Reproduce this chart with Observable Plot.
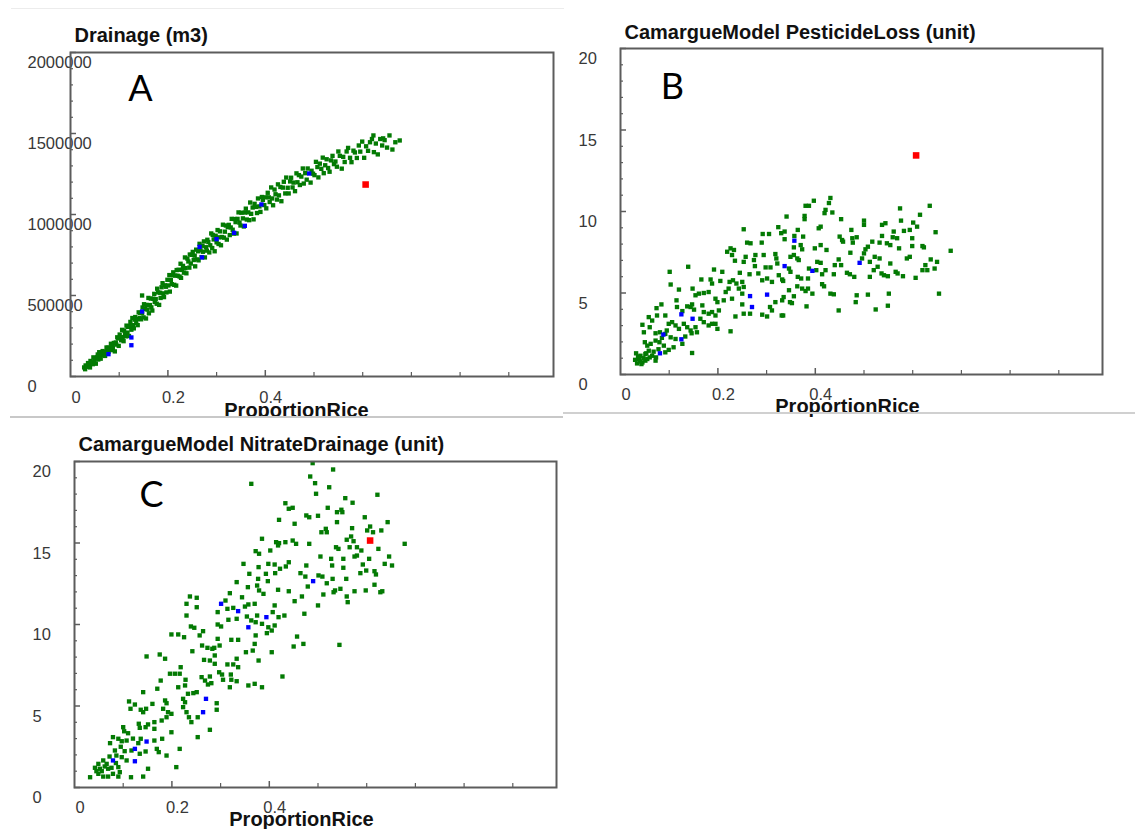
<!DOCTYPE html>
<html><head><meta charset="utf-8">
<script src="https://cdn.jsdelivr.net/npm/d3@7"></script>
<script src="https://cdn.jsdelivr.net/npm/@observablehq/plot@0.6"></script>
<style>
html,body{margin:0;padding:0;background:#fff;}
#wrap{position:relative;width:1135px;height:829px;overflow:hidden;background:#fff;}
.panel{position:absolute;background:#fff;}
.panel svg{max-width:none;display:block;}
.sep{position:absolute;}
</style></head><body><div id="wrap"></div>
<script>
// ---------- data ----------
const xLabelTicks = [0, 0.2, 0.4];
const xMajorTicks = [0.2, 0.4];
const xMinorTicks = [0.1, 0.3, 0.5, 0.6, 0.7, 0.8, 0.9];
const yTicksDrainage = [0, 500000, 1000000, 1500000, 2000000];
const yMinorDrainage = [100000,200000,300000,400000,600000,700000,800000,900000,1100000,1200000,1300000,1400000,1600000,1700000,1800000,1900000];
const yTicksUnit = [0, 5, 10, 15, 20];
const yMinorUnit = [1,2,3,4,6,7,8,9,11,12,13,14,16,17,18,19];

// Drainage (m3), values in thousands of m3
const drainageGreenK = [[0.028,56],[0.030,45],[0.031,68],[0.033,65],[0.034,60],[0.036,83],[0.039,74],[0.040,56],[0.041,96],[0.043,87],[0.046,76],[0.047,118],[0.049,92],[0.050,114],[0.052,79],[0.055,120],[0.056,136],[0.057,105],[0.059,150],[0.061,125],[0.062,110],[0.065,147],[0.066,157],[0.068,134],[0.070,150],[0.071,127],[0.074,179],[0.075,156],[0.077,178],[0.078,152],[0.080,176],[0.083,202],[0.084,163],[0.086,192],[0.087,175],[0.089,207],
[0.091,155],[0.093,210],[0.094,197],[0.096,242],[0.098,235],[0.099,189],[0.101,259],[0.102,240],[0.104,224],[0.106,288],[0.107,243],[0.109,218],[0.110,284],[0.112,268],[0.114,248],[0.115,314],[0.117,271],[0.118,306],[0.120,250],[0.122,311],[0.123,337],[0.125,289],[0.127,361],[0.128,317],[0.130,297],[0.132,351],[0.133,367],[0.135,329],[0.137,354],[0.138,317],[0.140,396],[0.142,361],[0.143,392],[0.145,353],[0.147,392],[0.147,500],[0.148,426],
[0.150,365],[0.151,446],[0.153,417],[0.155,358],[0.156,442],[0.158,413],[0.160,485],[0.161,390],[0.163,441],[0.165,481],[0.166,427],[0.168,407],[0.170,480],[0.172,510],[0.173,460],[0.175,478],[0.177,449],[0.178,542],[0.180,519],[0.182,442],[0.184,517],[0.185,485],[0.187,551],[0.189,576],[0.190,513],[0.192,490],[0.194,563],[0.196,554],[0.197,519],[0.199,597],[0.201,562],[0.203,626],[0.204,524],[0.206,596],[0.208,570],[0.210,625],[0.211,643],[0.213,566],[0.215,623],[0.217,561],[0.218,657],[0.220,622],[0.222,659],[0.224,617],[0.226,696],[0.227,609],[0.229,658],[0.231,683],[0.233,641],[0.235,735],[0.236,669],[0.238,637],[0.240,728],[0.242,710],[0.244,672],[0.245,753],[0.247,697],[0.249,751],
[0.251,769],[0.253,719],[0.255,746],[0.256,680],[0.258,783],[0.260,723],[0.262,773],[0.263,717],[0.265,819],[0.267,779],[0.269,737],[0.271,807],[0.272,770],[0.274,834],[0.276,735],[0.278,798],[0.280,777],[0.281,844],[0.283,830],[0.285,766],[0.287,810],[0.289,883],[0.291,793],[0.292,874],[0.294,846],[0.296,773],[0.298,869],[0.300,828],[0.302,904],[0.304,818],[0.305,859],[0.307,896],[0.309,810],[0.311,861],[0.313,937],[0.315,857],[0.317,894],[0.319,932],[0.321,845],[0.323,922],[0.325,936],[0.327,873],[0.329,920],[0.331,973],[0.333,906],[0.335,882],[0.337,972],[0.339,953],[0.341,883],[0.343,973],[0.345,1013],[0.347,950],[0.349,932],[0.351,1011],[0.354,976],[0.356,926],[0.358,1012],[0.360,1036],[0.362,969],[0.365,1013],[0.367,965],[0.369,1074],[0.371,1004],[0.374,1043],[0.376,970],[0.378,1066],[0.381,1047],[0.383,1009],[0.385,1099],[0.388,1050],[0.390,1016],[0.393,1108],[0.395,1090],[0.398,1058],
[0.400,1106],[0.402,1038],[0.405,1134],[0.407,1106],[0.409,1077],[0.412,1167],[0.414,1099],[0.416,1057],[0.419,1154],[0.421,1125],[0.424,1092],[0.426,1186],[0.428,1118],[0.431,1170],[0.433,1082],[0.436,1166],[0.438,1202],[0.441,1130],[0.443,1228],[0.446,1165],[0.448,1130],[0.451,1204],[0.453,1227],[0.456,1167],[0.458,1197],[0.461,1144],[0.464,1254],[0.466,1199],[0.469,1243],[0.471,1182],[0.474,1234],[0.477,1284],[0.479,1191],[0.482,1255],[0.485,1215],[0.487,1284],[0.493,1197],[0.495,1270],[0.498,1252],
[0.501,1243],[0.504,1325],[0.507,1293],[0.509,1229],[0.512,1314],[0.515,1282],[0.518,1351],[0.520,1255],[0.523,1304],[0.526,1341],[0.529,1287],[0.532,1264],[0.535,1334],[0.538,1362],[0.541,1311],[0.544,1327],[0.547,1295],[0.550,1389],[0.553,1362],[0.557,1283],[0.560,1356],[0.563,1324],[0.567,1389],[0.570,1411],[0.574,1350],[0.577,1323],[0.581,1394],[0.584,1383],[0.588,1349],[0.592,1426],[0.595,1388],[0.599,1450],[0.603,1350],[0.607,1421],[0.611,1393],[0.615,1446],[0.619,1466],[0.622,1488],[0.623,1385],[0.627,1438],[0.631,1371],[0.636,1466],[0.640,1426],[0.642,1470],[0.645,1459],[0.650,1413],[0.655,1488],[0.661,1401],[0.667,1446],[0.676,1457]];
const drainageBlueK = [[0.078,138],[0.125,241],[0.125,193],[0.147,401],[0.265,800],[0.270,735],[0.300,848],[0.336,887],[0.358,930],[0.392,1062],[0.490,1253]];
const drainageRedK = [[0.606,1185]];

const pesticideGreen = [[0.341,9.69],[0.253,8.91],[0.324,9.04],[0.292,8.62],[0.305,8.62],[0.330,8.67],[0.260,8.09],[0.267,8.05],[0.290,8.09],[0.226,7.74],[0.233,7.64],[0.219,7.53],[0.229,7.33],[0.235,6.98],[0.257,7.22],[0.277,7.33],[0.294,7.33],[0.318,7.39],[0.320,7.12],[0.253,6.91],[0.274,7.02],[0.276,6.65],[0.298,6.57],[0.308,6.57],[0.322,6.81],[0.346,6.50],[0.101,6.30],[0.139,6.61],[0.192,6.44],[0.209,6.30],[0.245,6.24],[0.265,6.15],[0.283,6.20],[0.291,5.78],[0.301,5.89],[0.311,5.68],[0.325,6.09],[0.332,5.83],[0.103,5.52],[0.120,5.21],[0.148,5.27],[0.166,5.83],[0.185,5.83],[0.188,5.58],[0.205,5.74],[0.224,5.68],[0.231,5.78],[0.238,5.58],[0.250,5.68],[0.253,5.37],[0.243,5.27],[0.216,5.06],[0.222,5.27],[0.154,4.86],[0.161,4.96],[0.171,5.00],[0.181,5.06],[0.195,4.65],[0.199,4.44],[0.212,4.55],[0.229,4.65],[0.250,4.96],[0.307,4.14],[0.311,3.93],[0.318,4.44],[0.332,4.55],[0.346,5.17],[0.250,4.30],[0.253,3.73],[0.291,3.67],[0.301,3.56],[0.331,3.62],[0.266,3.73],[0.236,3.56],[0.226,2.65],[0.074,4.07],[0.084,4.30],[0.092,3.62],[0.115,4.55],[0.116,4.14],[0.127,3.89],[0.137,4.18],[0.144,4.14],[0.147,4.30],[0.151,3.98],[0.168,4.24],[0.171,3.83],[0.181,3.73],[0.188,3.83],[0.195,3.62],[0.202,3.93],[0.099,3.11],[0.106,3.21],[0.113,3.01],[0.120,2.80],[0.130,3.11],[0.137,2.90],[0.144,2.70],[0.154,2.90],[0.164,3.42],[0.171,3.21],[0.181,3.01],[0.188,3.11],[0.195,3.11],[0.199,2.80],[0.058,3.52],[0.065,3.31],[0.075,3.62],[0.045,3.05],[0.048,2.59],[0.060,2.90],[0.072,2.53],[0.081,2.59],[0.092,2.49],[0.103,2.28],[0.113,2.18],[0.133,2.33],[0.146,2.53],[0.157,2.59],[0.050,1.98],[0.055,1.77],[0.062,1.88],[0.072,2.08],[0.080,1.98],[0.089,1.77],[0.099,1.51],[0.109,1.67],[0.127,1.88],[0.032,1.30],[0.041,1.15],[0.051,1.26],[0.058,1.46],[0.065,1.15],[0.038,0.95],[0.045,0.74],[0.051,0.85],[0.034,0.68],[0.043,0.64],[0.055,0.95],[0.072,0.85],[0.147,1.32],[0.092,1.36],[0.073,1.05],[0.036,1.10],[0.040,0.80],[0.047,1.00],[0.030,0.90],[0.053,1.30],[0.060,1.05],[0.068,1.40],[0.078,1.55],[0.085,2.25],[0.095,2.70],
[0.431,10.83],[0.428,10.52],[0.397,10.66],[0.380,10.35],[0.387,10.35],[0.421,10.10],[0.419,9.90],[0.435,9.94],[0.378,9.73],[0.378,9.53],[0.453,9.53],[0.574,10.19],[0.635,10.35],[0.615,9.80],[0.500,9.44],[0.500,9.18],[0.411,9.07],[0.407,8.97],[0.364,8.87],[0.474,8.87],[0.537,9.18],[0.544,9.28],[0.576,9.44],[0.601,9.32],[0.609,9.07],[0.647,8.73],[0.582,8.81],[0.594,8.87],[0.561,8.77],[0.337,8.77],[0.357,8.50],[0.375,8.46],[0.337,8.30],[0.450,8.46],[0.455,8.25],[0.476,8.36],[0.485,8.42],[0.477,8.09],[0.517,8.15],[0.537,8.50],[0.547,8.05],[0.559,8.42],[0.568,8.36],[0.599,8.36],[0.620,7.88],[0.623,7.80],[0.599,7.88],[0.572,7.74],[0.554,7.94],[0.532,8.09],[0.508,7.84],[0.503,7.68],[0.500,7.43],[0.496,7.12],[0.472,7.47],[0.457,8.15],[0.423,7.64],[0.411,7.94],[0.399,7.74],[0.370,7.94],[0.373,7.68],[0.356,7.80],[0.356,7.33],[0.349,7.22],[0.363,7.12],[0.366,7.02],[0.387,6.50],[0.404,6.91],[0.411,6.85],[0.402,6.40],[0.414,6.15],[0.421,6.40],[0.440,6.71],[0.448,7.06],[0.453,6.71],[0.438,6.15],[0.465,6.24],[0.471,6.15],[0.480,5.99],[0.512,5.99],[0.522,7.22],[0.532,7.12],[0.512,6.91],[0.528,6.61],[0.520,6.40],[0.536,6.20],[0.541,6.09],[0.549,6.03],[0.554,6.81],[0.565,6.30],[0.569,6.20],[0.580,6.03],[0.588,7.12],[0.594,7.22],[0.606,5.93],[0.620,6.40],[0.626,6.71],[0.630,6.40],[0.637,7.06],[0.650,6.91],[0.645,6.50],[0.678,7.59],[0.654,4.96],[0.334,5.74],[0.349,6.30],[0.364,5.99],[0.371,5.89],[0.385,5.89],[0.363,5.41],[0.373,5.27],[0.380,5.12],[0.385,5.27],[0.394,4.96],[0.335,4.75],[0.348,4.44],[0.356,4.80],[0.352,4.38],[0.382,4.18],[0.414,5.54],[0.418,5.41],[0.431,4.96],[0.438,4.92],[0.448,3.93],[0.485,4.86],[0.483,4.44],[0.508,4.90],[0.551,4.96],[0.549,4.22],[0.524,3.99],[0.334,3.62]];
const pesticideBlue = [[0.337,6.65],[0.266,4.81],[0.301,4.90],[0.270,4.14],[0.125,3.69],[0.148,3.42],[0.088,2.45],[0.125,2.16],[0.081,1.30],[0.357,8.21],[0.394,6.36],[0.491,6.85]];
const pesticideRed = [[0.607,13.44]];

const nitrateGreen = [[0.333,12.60],[0.319,11.92],[0.310,11.47],[0.314,10.96],[0.326,11.02],[0.294,10.76],[0.237,11.72],[0.251,11.64],[0.230,11.27],[0.251,11.06],[0.230,10.55],[0.316,10.29],[0.333,10.35],[0.294,10.00],[0.301,9.88],[0.239,9.88],[0.246,9.80],[0.264,9.59],[0.257,9.33],[0.199,9.39],[0.213,9.39],[0.225,9.22],[0.294,9.12],[0.322,9.06],[0.336,9.06],[0.262,8.71],[0.273,8.57],[0.283,8.51],[0.287,8.57],[0.298,8.71],[0.242,8.36],[0.266,7.83],[0.278,7.79],[0.288,8.10],[0.288,7.59],[0.314,7.55],[0.326,7.55],[0.333,7.90],[0.148,8.04],[0.175,8.16],[0.186,7.90],[0.218,7.38],[0.196,6.98],[0.206,6.98],[0.216,6.98],[0.297,7.07],[0.303,6.93],[0.321,6.93],[0.305,6.61],[0.322,6.61],[0.319,6.15],[0.336,7.38],[0.261,6.77],[0.268,6.56],[0.278,6.81],[0.274,6.32],[0.281,6.40],[0.177,6.56],[0.213,6.15],[0.227,6.26],[0.228,6.61],[0.170,6.06],[0.141,5.85],[0.251,5.85],[0.244,5.79],[0.233,5.75],[0.223,5.44],[0.227,5.23],[0.292,4.77],[0.292,5.17],[0.112,5.28],[0.115,4.83],[0.124,5.09],[0.136,4.77],[0.141,4.62],[0.147,4.83],[0.160,5.13],[0.186,5.34],[0.189,5.17],[0.182,4.83],[0.192,4.62],[0.199,4.52],[0.189,4.31],[0.179,4.11],[0.199,3.39],[0.223,4.93],[0.230,4.62],[0.235,4.31],[0.240,4.01],[0.253,4.31],[0.253,3.09],[0.278,3.54],[0.132,3.91],[0.134,3.66],[0.146,3.70],[0.151,3.87],[0.164,4.01],[0.164,3.60],[0.100,3.70],[0.102,3.45],[0.110,3.33],[0.079,3.09],[0.073,2.72],[0.090,2.99],[0.097,2.84],[0.107,2.88],[0.136,2.99],[0.131,2.72],[0.164,2.88],[0.180,2.99],[0.169,2.37],[0.173,2.17],[0.146,2.21],[0.134,2.07],[0.117,2.27],[0.103,2.23],[0.083,2.27],[0.086,1.96],[0.097,1.86],[0.107,1.66],[0.151,1.15],[0.216,2.37],[0.209,1.25],[0.189,1.96],[0.059,1.66],[0.049,1.45],[0.042,1.21],[0.052,1.15],[0.062,1.29],[0.069,1.15],[0.076,1.21],[0.090,1.25],[0.093,0.94],[0.079,0.84],[0.069,0.67],[0.059,0.67],[0.049,0.84],[0.032,0.63],[0.090,0.67],[0.116,0.63],[0.141,0.67],[0.056,1.00],[0.045,1.00],[0.066,1.45],[0.072,1.90],[0.085,1.50],[0.095,2.50],[0.120,3.00],
[0.489,19.90],[0.531,19.51],[0.363,18.63],[0.484,19.08],[0.494,18.67],[0.523,18.42],[0.496,18.02],[0.556,17.75],[0.571,17.47],[0.622,17.96],[0.433,17.44],[0.440,17.10],[0.448,17.16],[0.520,17.16],[0.539,16.89],[0.548,17.04],[0.550,16.89],[0.420,16.42],[0.452,16.18],[0.476,16.69],[0.482,16.58],[0.500,16.67],[0.539,16.28],[0.596,16.58],[0.643,16.28],[0.607,16.01],[0.601,15.77],[0.613,15.66],[0.630,15.77],[0.570,15.91],[0.516,15.87],[0.518,15.66],[0.507,15.66],[0.385,15.26],[0.414,15.05],[0.420,14.99],[0.433,15.05],[0.448,15.15],[0.455,14.95],[0.482,14.95],[0.418,14.85],[0.537,14.74],[0.542,14.64],[0.559,15.20],[0.565,14.74],[0.573,15.11],[0.568,15.40],[0.580,14.74],[0.589,14.54],[0.580,14.23],[0.575,14.17],[0.624,14.64],[0.678,14.95],[0.372,14.50],[0.379,14.34],[0.402,14.54],[0.347,13.72],[0.378,13.52],[0.398,13.72],[0.411,13.68],[0.422,13.42],[0.434,13.56],[0.440,13.82],[0.505,14.17],[0.527,14.03],[0.552,14.03],[0.529,13.62],[0.476,13.62],[0.552,13.48],[0.592,13.68],[0.605,14.03],[0.637,13.72],[0.646,14.17],[0.652,13.62],[0.599,13.31],[0.616,13.27],[0.619,13.07],[0.587,13.15],[0.558,12.80],[0.530,12.80],[0.509,12.94],[0.501,13.01],[0.464,13.15],[0.474,12.94],[0.359,13.11],[0.393,13.11],[0.412,13.15],[0.377,12.80],[0.397,12.66],[0.375,12.39],[0.344,11.67],[0.356,12.29],[0.379,12.09],[0.388,11.88],[0.418,12.13],[0.440,12.04],[0.467,11.72],[0.452,11.43],[0.479,12.33],[0.511,11.84],[0.518,12.53],[0.532,11.98],[0.535,12.09],[0.546,12.19],[0.559,11.72],[0.561,11.37],[0.575,12.04],[0.598,12.09],[0.616,12.44],[0.628,11.98],[0.632,12.04],[0.500,11.17],[0.472,10.66],[0.411,11.17],[0.407,10.76],[0.431,10.55],[0.419,10.45],[0.411,9.94],[0.398,9.83],[0.405,9.63],[0.395,9.47],[0.385,10.04],[0.375,10.55],[0.370,11.27],[0.357,11.23],[0.350,11.10],[0.354,10.49],[0.363,10.25],[0.372,10.14],[0.457,9.26],[0.450,8.65],[0.470,8.81],[0.544,8.75],[0.427,6.81],[0.357,6.26],[0.370,6.36],[0.385,6.15],[0.405,8.30],[0.378,7.79],[0.366,8.40],[0.352,8.30],[0.370,8.81],[0.333,6.52],[0.372,9.33]];
const nitrateBlue = [[0.301,11.27],[0.336,10.82],[0.357,9.83],[0.394,10.45],[0.490,12.66],[0.270,5.44],[0.264,4.62],[0.124,2.37],[0.148,2.82],[0.079,1.66],[0.124,1.61]];
const nitrateRed = [[0.607,15.15]];

const toM3 = arr => arr.map(([x, y]) => [x, y * 1000]);

const panels = [
  {title:"Drainage (m3)", letter:"A", left:0, top:0, width:565, height:418, ml:70, mr:12, mt:52, mb:42,
   yDomain:[0,2000000], yMajor:yTicksDrainage, yMinor:yMinorDrainage,
   green:toM3(drainageGreenK), blue:toM3(drainageBlueK), red:toM3(drainageRedK),
   titleDy:-17, letterDx:70, letterDy:37, labelDx:-15.5, labelDy:34, yPad:43, xPad:15},
  {title:"CamargueModel PesticideLoss (unit)", letter:"B", left:560, top:0, width:575, height:412, ml:60, mr:33, mt:48, mb:38,
   yDomain:[0,20], yMajor:yTicksUnit, yMinor:yMinorUnit, green:pesticideGreen, blue:pesticideBlue, red:pesticideRed,
   titleDy:-16, letterDx:52, letterDy:39, labelDx:-14, labelDy:32, yPad:42, xPad:13.5},
  {title:"CamargueModel NitrateDrainage (unit)", letter:"C", left:0, top:418, width:570, height:411, ml:74, mr:14, mt:43, mb:42,
   yDomain:[0,20], yMajor:yTicksUnit, yMinor:yMinorUnit, green:nitrateGreen, blue:nitrateBlue, red:nitrateRed,
   titleDy:-17, letterDx:77, letterDy:34, labelDx:-14, labelDy:32, yPad:42, xPad:14}
];

const frameColor = "#5c5c5c";
const wrap = document.getElementById("wrap");

function makePanel(p) {
  const innerW = p.width - p.ml - p.mr;
  const innerH = p.height - p.mt - p.mb;
  const xMax = innerW / 487;
  const chart = Plot.plot({
    width: p.width, height: p.height,
    marginLeft: p.ml, marginRight: p.mr, marginTop: p.mt, marginBottom: p.mb,
    x: {domain: [0, xMax]},
    y: {domain: p.yDomain},
    style: {fontFamily: "'Liberation Sans', Arial, sans-serif", fontSize: "16.5px", color: "#383838", background: "white", overflow: "visible"},
    marks: [
      Plot.tickY(p.yMinor, {y: d => d, insetRight: innerW - 3, stroke: frameColor, strokeWidth: 1.2}),
      Plot.tickY(p.yMajor, {y: d => d, insetRight: innerW - 6, stroke: frameColor, strokeWidth: 1.5}),
      Plot.tickX(xMinorTicks, {x: d => d, insetTop: innerH - 4, stroke: frameColor, strokeWidth: 1.2}),
      Plot.tickX(xMajorTicks, {x: d => d, insetTop: innerH - 6, stroke: frameColor, strokeWidth: 1.5}),
      Plot.axisY({ticks: p.yMajor, tickSize: 0, tickPadding: p.yPad, textAnchor: "start", dy: 10.5, tickFormat: d => String(d), label: null}),
      Plot.axisX({ticks: xLabelTicks, tickSize: 0, tickPadding: p.xPad, dx: 5.5, tickFormat: d => String(d), label: null}),
      Plot.dot(p.green, {x: d => d[0], y: d => d[1], symbol: "square", r: 2.45, fill: "#037a03"}),
      Plot.dot(p.blue, {x: d => d[0], y: d => d[1], symbol: "square", r: 2.45, fill: "#0000ff"}),
      Plot.dot(p.red, {x: d => d[0], y: d => d[1], symbol: "square", r: 3.7, fill: "#ff0000"}),
      Plot.frame({stroke: frameColor, strokeWidth: 2}),
      Plot.text([p.title], {text: d => d, frameAnchor: "top-left", textAnchor: "start", lineAnchor: "middle", dx: 4, dy: p.titleDy, fontSize: 20, fontWeight: "bold", fill: "#111"}),
      Plot.text([p.letter], {text: d => d, frameAnchor: "top-left", textAnchor: "middle", lineAnchor: "middle", dx: p.letterDx, dy: p.letterDy, fontSize: 36, fontFamily: "Lato, 'Open Sans', sans-serif", fill: "#000"}),
      Plot.text(["ProportionRice"], {text: d => d, frameAnchor: "bottom", textAnchor: "middle", lineAnchor: "middle", dx: p.labelDx, dy: p.labelDy, fontSize: 20, fontWeight: "bold", fill: "#111"})
    ]
  });
  const div = document.createElement("div");
  div.className = "panel";
  div.style.left = p.left + "px";
  div.style.top = p.top + "px";
  div.style.width = p.width + "px";
  div.style.height = p.height + "px";
  div.appendChild(chart);
  wrap.appendChild(div);
}

panels.forEach(makePanel);

function sep(left, top, width, height, color) {
  const d = document.createElement("div");
  d.className = "sep";
  Object.assign(d.style, {left: left + "px", top: top + "px", width: width + "px", height: height + "px", background: color});
  wrap.appendChild(d);
}
sep(11, 8, 553, 1, "#ececec");
sep(10, 416, 553, 2, "#c8c8c8");
sep(563, 412, 572, 2, "#d0d0d0");
</script>
</body></html>
